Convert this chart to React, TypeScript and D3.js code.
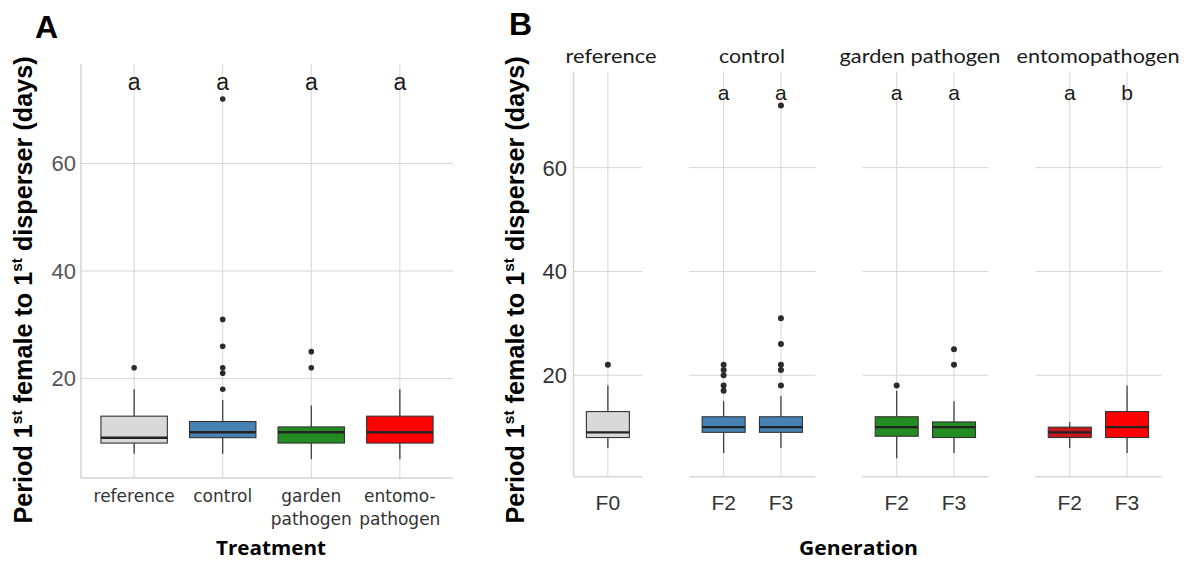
import React from 'react';
import * as d3 from 'd3';

// ---------- Data ----------
const treatments = ['reference', 'control', 'garden pathogen', 'entomopathogen'];
const treatmentTickLines = [['reference'], ['control'], ['garden', 'pathogen'], ['entomo-', 'pathogen']];
const treatmentFill = ['#D9D9D9', '#4682B4', '#228B22', '#FF0000'];

// Panel A box statistics (days)
const aLower = [6, 6, 5, 5];
const aQ1 = [8, 9, 8, 8];
const aMedian = [9, 10, 10, 10];
const aQ3 = [13, 12, 11, 13];
const aUpper = [18, 16, 15, 18];
const aOutliers = [[22], [72, 31, 26, 22, 21, 18], [25, 22], []];
const aLetters = ['a', 'a', 'a', 'a'];

// Panel B (facets by treatment, x = generation)
const facets = ['reference', 'control', 'garden pathogen', 'entomopathogen'];
const facetGenerations = [['F0'], ['F2', 'F3'], ['F2', 'F3'], ['F2', 'F3']];
const bFill = [['#D9D9D9'], ['#4682B4', '#4682B4'], ['#228B22', '#228B22'], ['#C8161D', '#FF0000']];
const bLower = [[6], [5, 6], [4, 5], [6, 5]];
const bQ1 = [[8], [9, 9], [8.25, 8], [8, 8]];
const bMedian = [[9], [10, 10], [10, 10], [9, 10]];
const bQ3 = [[13], [12, 12], [12, 11], [10, 13]];
const bUpper = [[18], [15, 16], [17, 15], [11, 18]];
const bOutliers = [[[22]], [[22, 21, 20, 18, 17], [72, 31, 26, 22, 21, 18]], [[18], [25, 22]], [[], []]];
const bLetters = [[''], ['a', 'a'], ['a', 'a'], ['a', 'b']];

const yTicks = [20, 40, 60];
const letterY = 75;

// ---------- Styles ----------
const GRID = '#D6D6D6';
const AXIS = '#BDBDBD';
const BOXLINE = '#333333';
const SANS = 'Liberation Sans, Arial, sans-serif';

function YTitle({ x, y }: { x: number; y: number }) {
  return (
    <text
      transform={`translate(${x},${y}) rotate(-90)`}
      textAnchor="middle"
      fontFamily={SANS}
      fontWeight="bold"
      fontSize={25.2}
      fill="#000"
    >
      <tspan>Period 1</tspan>
      <tspan fontSize={15.5} dy={-10}>st</tspan>
      <tspan dy={10}> female to 1</tspan>
      <tspan fontSize={15.5} dy={-10}>st</tspan>
      <tspan dy={10}> disperser (days)</tspan>
    </text>
  );
}

function Box({ cx, w, y, lo, q1, med, q3, hi, outs, fill, r }: any) {
  return (
    <g>
      <line x1={cx} x2={cx} y1={y(q3)} y2={y(hi)} stroke={BOXLINE} strokeWidth={1.2} />
      <line x1={cx} x2={cx} y1={y(q1)} y2={y(lo)} stroke={BOXLINE} strokeWidth={1.2} />
      <rect x={cx - w / 2} y={y(q3)} width={w} height={y(q1) - y(q3)} fill={fill} stroke={BOXLINE} strokeWidth={1.1} />
      <line x1={cx - w / 2} x2={cx + w / 2} y1={y(med)} y2={y(med)} stroke="#222" strokeWidth={2.4} />
      {outs.map((o: number, k: number) => (
        <circle key={k} cx={cx} cy={y(o)} r={r} fill="#2b2b2b" />
      ))}
    </g>
  );
}

export default function App() {
  // Panel A scales
  const aLeft = 81, aRight = 453, aTop = 64, aBottom = 478;
  const xA = d3.scalePoint<string>().domain(treatments).range([aLeft, aRight]).padding(0.6);
  const yA = d3.scaleLinear().domain([1.5, 78.5]).range([aBottom, aTop]);
  const wA = xA.step() * 0.75;

  // Panel B scales
  const bTop = 71.4, bBottom = 476.7;
  const yB = d3.scaleLinear().domain([0.45, 78.55]).range([bBottom, bTop]);
  const unit = 57.3, gap = 47, bStart = 573.5;
  let cursor = bStart;
  const facetScales = facetGenerations.map((gens) => {
    const width = (gens.length - 1 + 1.2) * unit;
    const s = d3.scalePoint<string>().domain(gens).range([cursor, cursor + width]).padding(0.6);
    const res = { s, left: cursor, right: cursor + width };
    cursor += width + gap;
    return res;
  });
  const wB = unit * 0.75;
  const stripCenters = [611, 752, 920, 1098];
  const stripLengths = [91, 66, 161, 163];

  return (
    <svg width={1195} height={562} style={{ position: 'absolute', left: 0, top: 0, background: '#fff' }}>
      <rect width={1195} height={562} fill="#fff" />

      {/* ---------------- Panel A ---------------- */}
      <text x={35} y={38} fontFamily={SANS} fontWeight="bold" fontSize={32}>A</text>
      {yTicks.map((t) => (
        <line key={t} x1={aLeft} x2={aRight} y1={yA(t)} y2={yA(t)} stroke={GRID} strokeWidth={1} />
      ))}
      {treatments.map((t) => (
        <line key={t} x1={xA(t)} x2={xA(t)} y1={aTop} y2={aBottom} stroke={GRID} strokeWidth={1} />
      ))}
      <line x1={aLeft} x2={aLeft} y1={aTop} y2={aBottom} stroke={AXIS} strokeWidth={1} />
      <line x1={aLeft} x2={aRight} y1={aBottom} y2={aBottom} stroke={AXIS} strokeWidth={1} />
      {yTicks.map((t) => (
        <text key={t} x={76} y={yA(t)} dy="0.36em" textAnchor="end" fontFamily={SANS} fontSize={22} fill="#555">{t}</text>
      ))}
      {treatments.map((t, i) => (
        <Box key={t} cx={xA(t)} w={wA} y={yA} lo={aLower[i]} q1={aQ1[i]} med={aMedian[i]} q3={aQ3[i]} hi={aUpper[i]}
          outs={aOutliers[i]} fill={treatmentFill[i]} r={2.8} />
      ))}
      {treatments.map((t, i) => (
        <text key={t} x={xA(t)} y={yA(letterY) + 7} textAnchor="middle" fontFamily={SANS} fontSize={23} fill="#1a1a1a">{aLetters[i]}</text>
      ))}
      {treatments.map((t, i) => (
        <text key={t} textAnchor="middle" fontFamily="DejaVu Sans, sans-serif" fontSize={17} fill="#333">
          {treatmentTickLines[i].map((ln, k) => (
            <tspan key={k} x={xA(t)} y={502 + k * 23}>{ln}</tspan>
          ))}
        </text>
      ))}
      <text x={271} y={555} textAnchor="middle" fontFamily="Open Sans, sans-serif" fontWeight="bold" fontSize={19}
        textLength={110} lengthAdjust="spacingAndGlyphs">Treatment</text>
      <YTitle x={32} y={290} />

      {/* ---------------- Panel B ---------------- */}
      <text x={509} y={35} fontFamily={SANS} fontWeight="bold" fontSize={32}>B</text>
      {facetScales.map((f, fi) => (
        <g key={fi}>
          {yTicks.map((t) => (
            <line key={t} x1={f.left} x2={f.right} y1={yB(t)} y2={yB(t)} stroke={GRID} strokeWidth={1} />
          ))}
          {facetGenerations[fi].map((g) => (
            <line key={g} x1={f.s(g)} x2={f.s(g)} y1={bTop} y2={bBottom} stroke={GRID} strokeWidth={1} />
          ))}
          <line x1={f.left} x2={f.right} y1={bBottom} y2={bBottom} stroke={GRID} strokeWidth={1.5} />
          {fi === 0 && <line x1={f.left} x2={f.left} y1={bTop} y2={bBottom} stroke={GRID} strokeWidth={1.5} />}
          {facetGenerations[fi].map((g, gi) => (
            <Box key={g} cx={f.s(g)} w={wB} y={yB} lo={bLower[fi][gi]} q1={bQ1[fi][gi]} med={bMedian[fi][gi]}
              q3={bQ3[fi][gi]} hi={bUpper[fi][gi]} outs={bOutliers[fi][gi]} fill={bFill[fi][gi]} r={3} />
          ))}
          {facetGenerations[fi].map((g, gi) => (
            <text key={g} x={f.s(g)} y={100} textAnchor="middle" fontFamily={SANS} fontSize={21} fill="#1a1a1a">{bLetters[fi][gi]}</text>
          ))}
          {facetGenerations[fi].map((g) => (
            <text key={g} x={f.s(g)} y={510} textAnchor="middle" fontFamily={SANS} fontSize={21} fill="#333">{g}</text>
          ))}
          <text x={stripCenters[fi]} y={63} textAnchor="middle" fontFamily="Lato, sans-serif" fontSize={19} fill="#1a1a1a"
            textLength={stripLengths[fi]} lengthAdjust="spacingAndGlyphs">{facets[fi]}</text>
        </g>
      ))}
      {yTicks.map((t) => (
        <text key={t} x={567} y={yB(t)} dy="0.36em" textAnchor="end" fontFamily={SANS} fontSize={22} fill="#333">{t}</text>
      ))}
      <text x={858.5} y={555} textAnchor="middle" fontFamily="Open Sans, sans-serif" fontWeight="bold" fontSize={19}
        textLength={119} lengthAdjust="spacingAndGlyphs">Generation</text>
      <YTitle x={524} y={290} />
    </svg>
  );
}
